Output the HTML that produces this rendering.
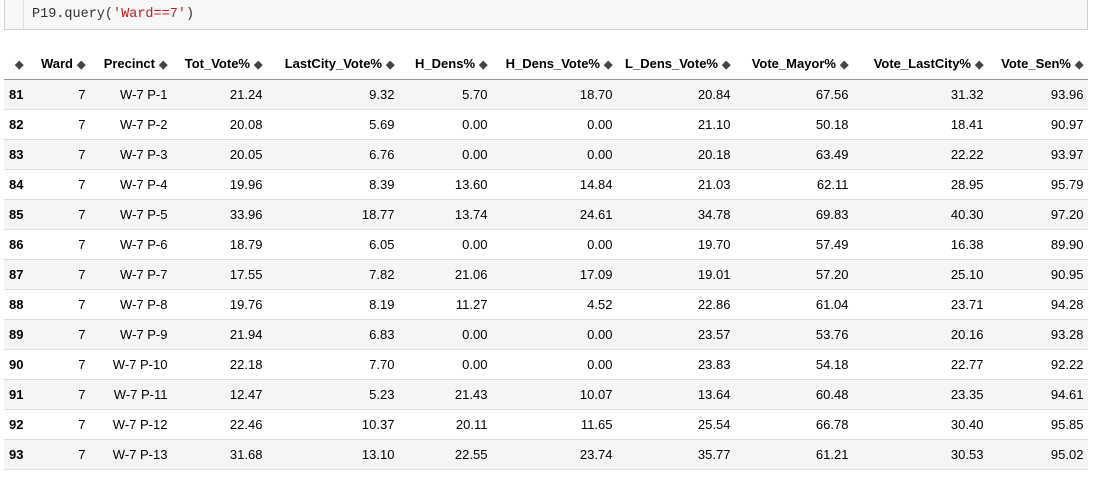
<!DOCTYPE html>
<html><head><meta charset="utf-8">
<style>
body{margin:0;width:1099px;height:485px;background:#fff;font-family:"Liberation Sans",Arial,sans-serif;overflow:hidden;position:relative}
.cell{position:absolute;left:4px;top:0;width:1084px;height:30px;border:1px solid #cfcfcf;border-top:none;background:#f7f7f7;box-sizing:border-box}
.prompt{position:absolute;left:18px;top:0;width:1px;height:29px;background:#e0e0e0}
.code{position:absolute;left:27px;top:7px;font-family:"Liberation Mono",monospace;font-size:13.5px;color:#333}
.code .s{color:#ba2121}
table{position:absolute;left:4px;top:48px;border-collapse:collapse;table-layout:fixed;font-size:13px;color:#000}
th,td{padding:0 5px 0 0;text-align:right;white-space:nowrap;overflow:hidden}
th{height:31px;font-weight:bold;border-bottom:1px solid #999}
td{height:29px;border-bottom:1px solid #ddd}
tr.odd td{background:#f5f5f5}
td.idx{text-align:left;padding-left:5px;font-weight:bold}
.ic{font-size:11px;color:#444;margin-left:4px}
</style></head><body>
<div class="cell"><div class="prompt"></div>
<div class="code">P19.query(<span class="s">'Ward==7'</span>)</div></div>
<table>
<colgroup><col style="width:24px"><col style="width:62px"><col style="width:82px"><col style="width:95px"><col style="width:132px"><col style="width:93px"><col style="width:125px"><col style="width:118px"><col style="width:118px"><col style="width:135px"><col style="width:100px"></colgroup>
<thead><tr>
<th><span class="ic">◆</span></th>
<th>Ward<span class="ic">◆</span></th>
<th>Precinct<span class="ic">◆</span></th>
<th>Tot_Vote%<span class="ic">◆</span></th>
<th>LastCity_Vote%<span class="ic">◆</span></th>
<th>H_Dens%<span class="ic">◆</span></th>
<th>H_Dens_Vote%<span class="ic">◆</span></th>
<th>L_Dens_Vote%<span class="ic">◆</span></th>
<th>Vote_Mayor%<span class="ic">◆</span></th>
<th>Vote_LastCity%<span class="ic">◆</span></th>
<th>Vote_Sen%<span class="ic">◆</span></th>
</tr></thead>
<tbody>
<tr class="odd"><td class="idx">81</td><td>7</td><td>W-7 P-1</td><td>21.24</td><td>9.32</td><td>5.70</td><td>18.70</td><td>20.84</td><td>67.56</td><td>31.32</td><td>93.96</td></tr>
<tr><td class="idx">82</td><td>7</td><td>W-7 P-2</td><td>20.08</td><td>5.69</td><td>0.00</td><td>0.00</td><td>21.10</td><td>50.18</td><td>18.41</td><td>90.97</td></tr>
<tr class="odd"><td class="idx">83</td><td>7</td><td>W-7 P-3</td><td>20.05</td><td>6.76</td><td>0.00</td><td>0.00</td><td>20.18</td><td>63.49</td><td>22.22</td><td>93.97</td></tr>
<tr><td class="idx">84</td><td>7</td><td>W-7 P-4</td><td>19.96</td><td>8.39</td><td>13.60</td><td>14.84</td><td>21.03</td><td>62.11</td><td>28.95</td><td>95.79</td></tr>
<tr class="odd"><td class="idx">85</td><td>7</td><td>W-7 P-5</td><td>33.96</td><td>18.77</td><td>13.74</td><td>24.61</td><td>34.78</td><td>69.83</td><td>40.30</td><td>97.20</td></tr>
<tr><td class="idx">86</td><td>7</td><td>W-7 P-6</td><td>18.79</td><td>6.05</td><td>0.00</td><td>0.00</td><td>19.70</td><td>57.49</td><td>16.38</td><td>89.90</td></tr>
<tr class="odd"><td class="idx">87</td><td>7</td><td>W-7 P-7</td><td>17.55</td><td>7.82</td><td>21.06</td><td>17.09</td><td>19.01</td><td>57.20</td><td>25.10</td><td>90.95</td></tr>
<tr><td class="idx">88</td><td>7</td><td>W-7 P-8</td><td>19.76</td><td>8.19</td><td>11.27</td><td>4.52</td><td>22.86</td><td>61.04</td><td>23.71</td><td>94.28</td></tr>
<tr class="odd"><td class="idx">89</td><td>7</td><td>W-7 P-9</td><td>21.94</td><td>6.83</td><td>0.00</td><td>0.00</td><td>23.57</td><td>53.76</td><td>20.16</td><td>93.28</td></tr>
<tr><td class="idx">90</td><td>7</td><td>W-7 P-10</td><td>22.18</td><td>7.70</td><td>0.00</td><td>0.00</td><td>23.83</td><td>54.18</td><td>22.77</td><td>92.22</td></tr>
<tr class="odd"><td class="idx">91</td><td>7</td><td>W-7 P-11</td><td>12.47</td><td>5.23</td><td>21.43</td><td>10.07</td><td>13.64</td><td>60.48</td><td>23.35</td><td>94.61</td></tr>
<tr><td class="idx">92</td><td>7</td><td>W-7 P-12</td><td>22.46</td><td>10.37</td><td>20.11</td><td>11.65</td><td>25.54</td><td>66.78</td><td>30.40</td><td>95.85</td></tr>
<tr class="odd"><td class="idx">93</td><td>7</td><td>W-7 P-13</td><td>31.68</td><td>13.10</td><td>22.55</td><td>23.74</td><td>35.77</td><td>61.21</td><td>30.53</td><td>95.02</td></tr>
</tbody></table>
</body></html>
